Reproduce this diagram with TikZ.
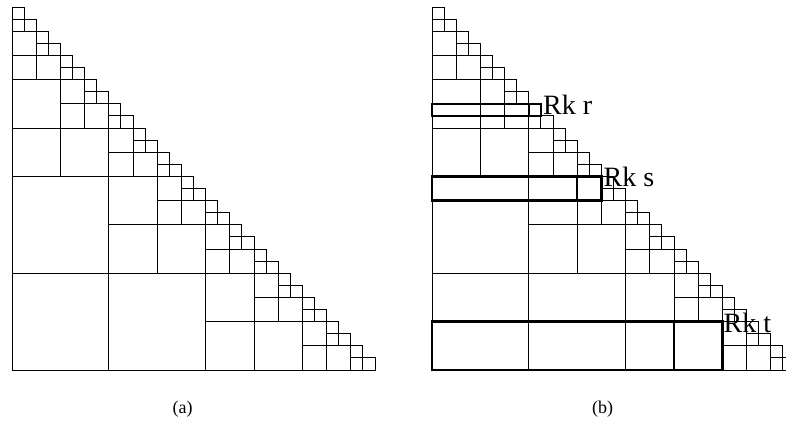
\documentclass[tikz,border=0pt]{standalone}
\usepackage{fontspec}
\setmainfont{Liberation Serif}
\usetikzlibrary{positioning, calc}

\newcommand{\cellw}{12.1pt}

\begin{document}
\begin{tikzpicture}[x=1pt, y=-1pt,
    grid/.style={draw=black, line width=0.9pt},
    rkbox/.style={draw=black, line width=2.4pt},
    rklbl/.style={font=\fontsize{28}{30}\selectfont, inner sep=0pt, anchor=base west},
    panellbl/.style={font=\fontsize{18}{20}\selectfont, inner sep=0pt}]
  \clip (0,0) rectangle (786,421);
  % same block partition in both panels
  \foreach \px/\nm in {12/a, 432/b} {
    \begin{scope}[shift={(\px,7)}, x=\cellw, y=-\cellw]
      % 1x1 cells along the diagonal
      \foreach \m in {0,...,14} {
        \draw[grid] (2*\m,2*\m) rectangle ++(1,1)
                    (2*\m,2*\m+1) rectangle ++(1,1)
                    (2*\m+1,2*\m+1) rectangle ++(1,1);
      }
      % square blocks of size 2, 4, 8
      \foreach \s/\o/\T in {2/2/14, 4/6/6, 8/14/2} {
        \foreach \t in {1,...,\T} {
          \draw[grid] ({(\t-1)*\s},{\o+(\t-1)*\s}) rectangle ++(\s,\s);
          \ifodd\t\else
            \draw[grid] ({(\t-2)*\s},{\o+(\t-1)*\s}) rectangle ++(\s,\s);
          \fi
        }
      }
    \end{scope}
    \node[panellbl] (lbl\nm) at (\px+170.5,409.5) {(\nm)};
  }
  % highlighted rows in panel (b)
  \begin{scope}[shift={(432,7)}, x=\cellw, y=-\cellw]
    \draw[rkbox] (0,8) rectangle (8,9) (8,8) rectangle (9,9);
    \draw[rkbox] (0,14) rectangle (12,16) (12,14) rectangle (14,16);
    \draw[rkbox] (0,26) rectangle (20,30) (20,26) rectangle (24,30);
    \coordinate (rcorner) at (9,8);
    \coordinate (scorner) at (14,14);
    \coordinate (tcorner) at (24,26);
  \end{scope}
  \node[rklbl] (rkr) at ([shift={(2pt,-11pt)}]rcorner) {Rk r};
  \node[rklbl] (rks) at ([shift={(2pt,-10pt)}]scorner) {Rk s};
  \node[rklbl] (rkt) at ([shift={(1pt,-11pt)}]tcorner) {Rk t};
\end{tikzpicture}
\end{document}
